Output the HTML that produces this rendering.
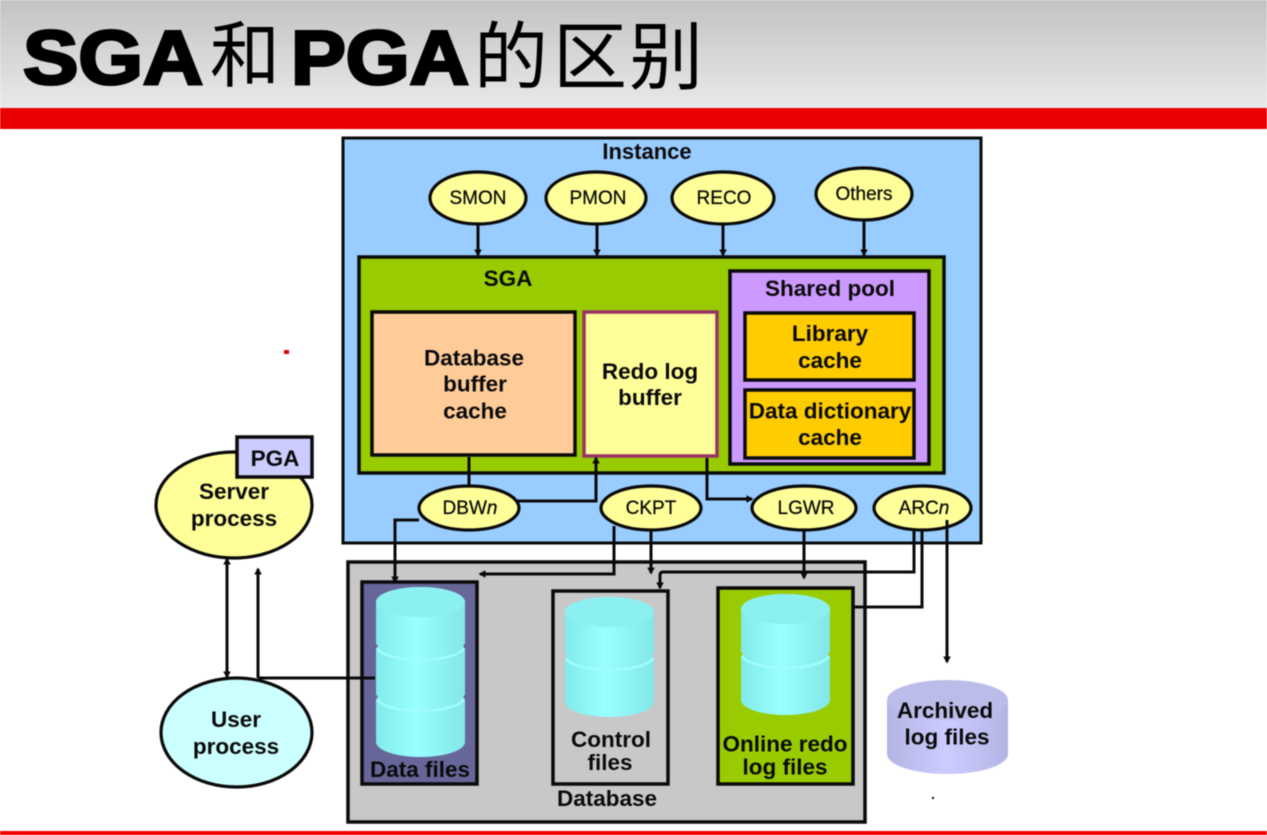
<!DOCTYPE html>
<html>
<head>
<meta charset="utf-8">
<style>
html,body{margin:0;padding:0;width:1267px;height:835px;overflow:hidden;background:#fff}
svg{display:block;filter:blur(.45px)}
text{font-family:"Liberation Sans","Noto Sans CJK SC",sans-serif;text-anchor:middle;fill:#0a0a0a}
.b{font-weight:bold;font-size:22.5px}
.s{font-size:19px;stroke:#0a0a0a;stroke-width:.25px}
.l{fill:none;stroke:#0a0a0a;stroke-width:3}
.box{stroke:#0a0a0a;stroke-width:3.5}
.el{stroke:#0a0a0a;stroke-width:3.2}
.rim{fill:none;stroke:#a0fdfd;stroke-width:2.5}
</style>
</head>
<body>
<svg width="1267" height="835" viewBox="0 0 1267 835" xmlns="http://www.w3.org/2000/svg">
<defs>
<linearGradient id="hd" x1="0" y1="0" x2="0" y2="1"><stop offset="0" stop-color="#c3c3c3"/><stop offset="1" stop-color="#e9e9e9"/></linearGradient>
<linearGradient id="cy" x1="0" y1="0" x2="1" y2="0"><stop offset="0" stop-color="#82eaea"/><stop offset=".45" stop-color="#99ffff"/><stop offset="1" stop-color="#84e6e6"/></linearGradient>
<linearGradient id="ar" x1="0" y1="0" x2="1" y2="0"><stop offset="0" stop-color="#b4b4e4"/><stop offset=".5" stop-color="#ccccff"/><stop offset="1" stop-color="#b4b4e4"/></linearGradient>
<marker id="a" markerWidth="2.4" markerHeight="2.6" refX="1.9" refY="1.3" orient="auto" markerUnits="strokeWidth"><path d="M0,0 L2.4,1.3 L0,2.6 Z" fill="#0a0a0a"/></marker>
<marker id="as" markerWidth="2.4" markerHeight="2.6" refX=".5" refY="1.3" orient="auto" markerUnits="strokeWidth"><path d="M2.4,0 L0,1.3 L2.4,2.6 Z" fill="#0a0a0a"/></marker>
</defs>

<rect x="0" y="0" width="1267" height="108" fill="url(#hd)"/>
<rect x="0" y="108" width="1267" height="21" fill="#e90000"/>
<rect x="0" y="831" width="1267" height="4" fill="#f00000"/>

<text x="113" y="84" style="font-size:76px;font-weight:bold;stroke:#000;stroke-width:3px;fill:#000" textLength="180" lengthAdjust="spacingAndGlyphs">SGA</text>
<text x="245" y="81" style="font-size:72px;fill:#000" textLength="70" lengthAdjust="spacingAndGlyphs">和</text>
<text x="380" y="84" style="font-size:76px;font-weight:bold;stroke:#000;stroke-width:3px;fill:#000" textLength="178" lengthAdjust="spacingAndGlyphs">PGA</text>
<text x="511" y="83" style="font-size:74px;fill:#000">的</text>
<text x="590" y="83" style="font-size:74px;fill:#000">区</text>
<text x="666" y="83" style="font-size:74px;fill:#000">别</text>

<!-- Instance -->
<rect x="343" y="138" width="638" height="405" fill="#99ccff" class="box" style="stroke-width:3"/>
<text x="647" y="159" class="b" style="font-size:22px">Instance</text>

<!-- Database -->
<rect x="348" y="562" width="517" height="260" fill="#c8c8c8" class="box"/>

<!-- SGA -->
<rect x="359" y="257" width="585" height="216" fill="#99cc00" class="box"/>
<text x="508" y="286" class="b">SGA</text>
<rect x="372" y="312" width="203" height="143" fill="#ffcc99" class="box"/>
<text x="474" y="365.500" class="b">Database</text>
<text x="475" y="391.500" class="b">buffer</text>
<text x="475" y="418.500" class="b">cache</text>
<rect x="584" y="312" width="133" height="144" fill="#ffff99" stroke="#993366" stroke-width="3.5"/>
<text x="650" y="379" class="b">Redo log</text>
<text x="650" y="405" class="b">buffer</text>
<rect x="730" y="271" width="199" height="193" fill="#cc99ff" class="box"/>
<text x="830" y="296" class="b">Shared pool</text>
<rect x="745" y="313" width="169" height="67" fill="#ffcc00" class="box"/>
<text x="830" y="341" class="b">Library</text>
<text x="830" y="368" class="b">cache</text>
<rect x="745" y="390" width="169" height="68" fill="#ffcc00" class="box"/>
<text x="830" y="418.500" class="b">Data dictionary</text>
<text x="830" y="445" class="b">cache</text>

<!-- Top connectors -->
<path class="l" d="M478,224V255" marker-end="url(#a)"/>
<path class="l" d="M597,224V255" marker-end="url(#a)"/>
<path class="l" d="M723,224V255" marker-end="url(#a)"/>
<path class="l" d="M864,220V255" marker-end="url(#a)"/>

<ellipse cx="478" cy="198" rx="48" ry="26" fill="#ffff99" class="el"/>
<text x="478" y="204" class="s">SMON</text>
<ellipse cx="596" cy="198" rx="50" ry="26" fill="#ffff99" class="el"/>
<text x="598" y="204" class="s">PMON</text>
<ellipse cx="723" cy="198" rx="51" ry="26" fill="#ffff99" class="el"/>
<text x="724" y="204" class="s">RECO</text>
<ellipse cx="864" cy="194" rx="48" ry="26" fill="#ffff99" class="el"/>
<text x="864" y="200" class="s">Others</text>

<!-- Data files -->
<rect x="362" y="582" width="115" height="202" fill="#666699" class="box"/>
<path d="M376,602 A44.500,15 0 0 1 465,602 V742 A44.500,15 0 0 1 376,742 Z" fill="url(#cy)"/>
<ellipse cx="420.500" cy="602" rx="44.500" ry="15" fill="#8df0f0"/>
<path class="rim" d="M377,648 A44,14 0 0 0 464,648"/>
<path class="rim" d="M377,699 A44,14 0 0 0 464,699"/>
<circle cx="375" cy="646" r="2.500" fill="#666699"/><circle cx="466" cy="646" r="2.500" fill="#666699"/>
<circle cx="375" cy="697" r="2.500" fill="#666699"/><circle cx="466" cy="697" r="2.500" fill="#666699"/>
<text x="420" y="777" class="b">Data files</text>

<!-- Control files -->
<rect x="553" y="591" width="115" height="193" fill="#c8c8c8" class="box"/>
<path d="M565,612 A44.500,15 0 0 1 654,612 V702 A44.500,15 0 0 1 565,702 Z" fill="url(#cy)"/>
<ellipse cx="609.500" cy="612" rx="44.500" ry="15" fill="#8df0f0"/>
<path class="rim" d="M566,658 A44,14 0 0 0 653,658"/>
<circle cx="564" cy="656" r="2.500" fill="#c8c8c8"/><circle cx="655" cy="656" r="2.500" fill="#c8c8c8"/>
<text x="611" y="747" class="b">Control</text>
<text x="610" y="770" class="b">files</text>

<!-- Online redo -->
<rect x="718" y="588" width="135" height="196" fill="#99cc00" class="box"/>
<path d="M741,609 A44.500,15 0 0 1 830,609 V700 A44.500,15 0 0 1 741,700 Z" fill="url(#cy)"/>
<ellipse cx="785.500" cy="609" rx="44.500" ry="15" fill="#8df0f0"/>
<path class="rim" d="M742,656 A44,14 0 0 0 829,656"/>
<circle cx="740" cy="654" r="2.500" fill="#99cc00"/><circle cx="831" cy="654" r="2.500" fill="#99cc00"/>
<text x="785" y="751.500" class="b">Online redo</text>
<text x="785" y="774.500" class="b">log files</text>

<text x="607" y="806" class="b">Database</text>

<!-- Archived -->
<path d="M887,700 V754 A60.500,20 0 0 0 1008,754 V700 Z" fill="url(#ar)"/>
<ellipse cx="947.500" cy="700" rx="60.500" ry="20" fill="#bcbcea"/>
<text x="945" y="718" class="b">Archived</text>
<text x="947" y="744.500" class="b">log files</text>

<!-- Connectors -->
<path class="l" d="M469,457V487"/>
<path class="l" d="M516,501H596V458" marker-end="url(#a)"/>
<path class="l" d="M707,458V499H752" marker-end="url(#a)"/>
<path class="l" d="M419,520H395V582" marker-end="url(#a)"/>
<path class="l" d="M614,526V574H480" marker-end="url(#a)"/>
<path class="l" d="M651,529V573" marker-end="url(#a)"/>
<path class="l" d="M914,528V572H663Q660,572 660,575V588" marker-end="url(#a)"/>
<path class="l" d="M853,607H922V528"/>
<path class="l" d="M804,529V578" marker-end="url(#a)"/>
<path class="l" d="M227,559V677" marker-start="url(#as)" marker-end="url(#a)"/>
<path class="l" d="M258,678V569" marker-end="url(#a)"/>
<path class="l" d="M258,678H375"/>

<ellipse cx="469" cy="508" rx="50" ry="22" fill="#ffff99" class="el"/>
<text x="470" y="514" class="s">DBW<tspan font-style="italic">n</tspan></text>
<ellipse cx="651" cy="508" rx="50" ry="22" fill="#ffff99" class="el"/>
<text x="651" y="514" class="s">CKPT</text>
<ellipse cx="804" cy="508" rx="52" ry="22" fill="#ffff99" class="el"/>
<text x="806" y="514" class="s">LGWR</text>
<ellipse cx="922.500" cy="508" rx="48.500" ry="22" fill="#ffff99" class="el"/>
<text x="924" y="514" class="s">ARC<tspan font-style="italic">n</tspan></text>
<path class="l" d="M947,520V662" marker-end="url(#a)"/>

<!-- Server / PGA / User -->
<ellipse cx="234" cy="505" rx="78" ry="53" fill="#ffff99" class="el"/>
<text x="234" y="499" class="b">Server</text>
<text x="234" y="526" class="b">process</text>
<rect x="237" y="437" width="75" height="40" fill="#ccccff" class="box"/>
<text x="275" y="466" class="b">PGA</text>
<ellipse cx="236.500" cy="732.500" rx="75.500" ry="54.500" fill="#ccffff" class="el"/>
<text x="236" y="727" class="b">User</text>
<text x="236" y="754" class="b">process</text>

<rect x="284" y="350" width="5" height="4" fill="#e00000"/>
<rect x="932" y="797" width="2" height="2" fill="#000"/>
</svg>
</body>
</html>
